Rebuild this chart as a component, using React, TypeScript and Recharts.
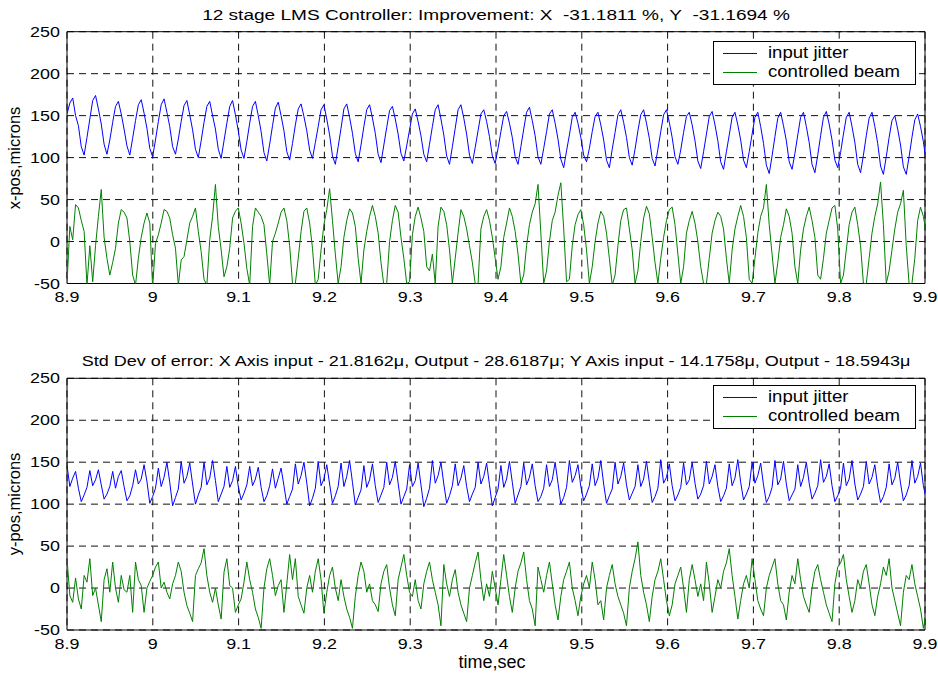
import React from 'react';
import {
  LineChart,
  Line,
  XAxis,
  YAxis,
  CartesianGrid,
  ReferenceArea,
} from 'recharts';

const FONT = '"Liberation Sans", Arial, Helvetica, sans-serif';

// sample clock of the recording
const T_START = 8.9;
const T_STEP = 0.003327;

const X_TICKS = [8.9, 9.0, 9.1, 9.2, 9.3, 9.4, 9.5, 9.6, 9.7, 9.8, 9.9];
const Y_TICKS = [-50, 0, 50, 100, 150, 200, 250];

const SERIES = [
  { key: 'jitter', name: 'input jitter', color: '#0000ff' },
  { key: 'beam', name: 'controlled beam', color: '#008000' },
];

// x-axis plot: input jitter (blue) and controlled beam (green), microns
const xJitter = [
  152, 165, 171, 150, 138, 113, 103, 124, 146, 168, 174, 158, 140, 116, 104, 121,
  142, 161, 167, 152, 134, 114, 103, 123, 144, 163, 169, 153, 135, 111, 101, 121,
  143, 163, 170, 154, 137, 113, 104, 122, 143, 162, 168, 151, 133, 110, 100, 120,
  142, 161, 167, 150, 134, 110, 99, 120, 141, 161, 168, 151, 132, 109, 99, 119,
  141, 161, 167, 150, 131, 106, 96, 116, 138, 159, 166, 150, 132, 107, 97, 117,
  139, 158, 164, 149, 132, 109, 99, 118, 137, 157, 163, 146, 127, 102, 92, 113,
  135, 158, 164, 148, 129, 105, 95, 115, 137, 157, 163, 147, 129, 104, 94, 115,
  136, 156, 161, 146, 128, 105, 96, 114, 133, 152, 158, 143, 126, 104, 95, 116,
  137, 157, 163, 146, 127, 102, 92, 113, 135, 157, 163, 147, 128, 103, 93, 112,
  132, 152, 157, 143, 125, 102, 93, 111, 131, 150, 155, 141, 124, 101, 92, 113,
  134, 154, 160, 144, 126, 101, 92, 111, 131, 152, 157, 141, 122, 98, 88, 108,
  127, 148, 154, 141, 124, 103, 95, 111, 131, 149, 154, 139, 121, 97, 88, 110,
  130, 151, 157, 142, 124, 100, 91, 110, 132, 151, 157, 141, 123, 99, 90, 110,
  131, 151, 157, 142, 124, 101, 92, 109, 130, 149, 154, 139, 120, 96, 87, 107,
  128, 149, 155, 139, 120, 95, 86, 107, 127, 148, 154, 139, 121, 97, 88, 107,
  128, 148, 154, 137, 117, 91, 81, 102, 125, 147, 154, 138, 120, 95, 86, 105,
  127, 148, 154, 137, 118, 92, 82, 103, 126, 148, 155, 140, 121, 97, 88, 106,
  128, 148, 154, 137, 118, 92, 82, 103, 126, 147, 154, 137, 117, 90, 80, 101,
  124, 144, 150, 134, 115, 89, 80, 101, 124, 145, 152, 137, 119, 95, 86, 104,
];

const xBeam = [
  -50, 18, 2, 44, 40, 25, 12, -52, -5, -48, -5, 30, 62, 5, -20, -40,
  -25, -8, 22, 38, 35, 28, 0, -40, -52, -20, 5, 22, 34, 22, -55, -2,
  8, 22, 38, 36, 28, 8, -8, -52, -22, -18, 2, 22, 30, 40, 12, -12,
  -45, -52, 2, 30, 68, 18, -10, -42, -30, -8, 28, 36, 40, 22, -2, -32,
  -52, 18, 40, 35, 30, 20, -15, -52, 0, 10, 22, 35, 40, 25, -5, -50,
  -50, -20, 12, 36, 40, 22, -8, -52, -45, -10, 20, 38, 63, 25, -15, -50,
  -30, 5, 25, 39, 34, 18, -20, -50, -10, 12, 30, 43, 30, 10, -25, -52,
  -50, 0, 25, 43, 35, 5, -20, -50, -48, 8, 30, 41, 28, 12, -30, -35,
  -15, -50, 18, 41, 36, 20, -10, -50, -20, 10, 38, 30, 15, -5, -25, -50,
  -50, 15, 30, 38, 25, 5, -20, -45, -30, 5, 22, 40, 30, 12, -15, -50,
  -40, -5, 20, 35, 45, 68, 10, -50, -35, 0, 25, 35, 55, 70, 15, -48,
  -45, -5, 20, 32, 38, 20, -10, -50, -30, 0, 22, 36, 30, 10, -20, -52,
  -40, -5, 25, 38, 40, 15, -10, -50, -35, 0, 28, 42, 33, 5, -25, -50,
  -20, 5, 25, 38, 41, 20, -15, -50, -30, 10, 25, 36, 22, 0, -30, -50,
  -50, -20, 10, 25, 35, 30, 15, -20, -50, -10, 15, 30, 43, 30, 5, -45,
  -50, -20, 10, 30, 40, 68, 20, -15, -50, -25, 5, 20, 39, 30, 10, -30,
  -50, -10, 15, 30, 41, 25, 5, -40, -45, -20, 10, 25, 40, 43, 15, -50,
  -40, -10, 20, 35, 41, 20, -5, -50, -50, -20, 10, 30, 45, 71, 20, -50,
  -35, -10, 15, 35, 45, 61, -5, -50, -50, -20, 25, 41, 30, 10, -15, -45,
];

// y-axis plot
const yJitter = [
  146, 121, 131, 139, 119, 103, 111, 120, 140, 122, 129, 141, 123, 106, 112, 121,
  139, 119, 133, 140, 121, 104, 110, 122, 141, 124, 130, 147, 127, 101, 109, 119,
  143, 121, 132, 150, 126, 98, 108, 118, 151, 125, 133, 149, 124, 100, 111, 120,
  150, 123, 131, 152, 128, 103, 112, 121, 145, 120, 128, 145, 121, 105, 113, 123,
  145, 122, 130, 144, 120, 103, 110, 122, 142, 119, 131, 143, 122, 100, 109, 118,
  148, 124, 134, 150, 125, 98, 107, 119, 151, 122, 130, 147, 124, 101, 110, 121,
  149, 121, 133, 152, 126, 99, 108, 117, 146, 120, 129, 148, 122, 102, 111, 120,
  150, 123, 132, 151, 125, 100, 109, 118, 147, 121, 128, 149, 123, 97, 107, 119,
  152, 125, 134, 150, 124, 101, 110, 122, 148, 122, 131, 146, 121, 103, 112, 120,
  150, 124, 133, 149, 123, 98, 108, 118, 146, 120, 130, 151, 126, 101, 111, 121,
  149, 123, 132, 148, 122, 103, 109, 119, 147, 121, 129, 150, 125, 100, 108, 120,
  152, 126, 134, 147, 121, 104, 112, 122, 148, 122, 131, 152, 124, 101, 110, 118,
  150, 124, 133, 149, 123, 105, 113, 121, 147, 121, 130, 151, 126, 102, 109, 119,
  153, 125, 132, 148, 122, 104, 111, 120, 149, 123, 129, 150, 125, 106, 112, 122,
  151, 124, 133, 147, 121, 103, 110, 119, 148, 122, 131, 153, 126, 105, 112, 121,
  150, 125, 134, 149, 123, 102, 109, 120, 152, 123, 130, 151, 124, 104, 111, 118,
  147, 121, 132, 150, 125, 106, 113, 122, 153, 126, 133, 148, 122, 103, 110, 119,
  149, 122, 130, 152, 124, 105, 112, 121, 151, 124, 132, 147, 121, 102, 109, 120,
  148, 123, 131, 150, 125, 104, 111, 122, 152, 125, 133, 149, 122, 106, 112, 120,
];

const yBeam = [
  35, -9, -17, 12, -13, -25, 15, 7, 35, -9, 0, -20, -40, 10, 23, -5,
  31, 0, -17, 15, -2, -5, 15, -29, 31, 10, 3, -29, 0, 8, 15, 25,
  31, 0, 7, -5, -13, 5, 15, 31, 20, -5, -21, -30, -40, 15, 23, 30,
  47, 15, -5, -17, 0, -20, -37, 19, 35, 3, 0, -29, -20, -13, 7, 31,
  10, -5, -25, -35, -48, 0, 23, 35, 15, -9, 3, 10, -29, 5, 40, 10,
  35, -10, -20, -30, 0, 15, -5, 20, 35, 10, -30, -5, 15, 25, 0, -15,
  10, -10, -25, -35, -48, -10, 15, 31, 20, -5, 5, -15, -20, -28, 5, 20,
  28, 0, -20, -33, 10, 25, 40, 15, -5, -10, 10, -15, -25, 5, 20, 31,
  10, -5, -20, -45, 28, 5, -10, 10, 22, -5, -20, -30, -40, 0, 15, 30,
  43, 10, -15, 5, -10, 20, 0, -20, 10, 40, 15, -10, -29, 0, 20, 30,
  43, 10, -15, -25, -45, 25, 10, -5, 15, 31, 5, -20, -38, -10, 10, 20,
  31, 0, -15, -33, -10, 5, 15, 0, 31, 10, -20, -15, -38, 0, 15, 28,
  5, -10, -20, -30, -45, 0, 20, 35, 55, 15, -5, -20, -40, -10, 10, 20,
  35, 10, -15, -33, -20, 5, 15, 25, 0, -29, 10, 28, 10, -10, 5, -15,
  31, 5, -29, -10, 10, 0, 20, 30, 47, 15, -10, -37, -15, 5, 15, 0,
  35, 10, -15, -25, -33, 0, 15, 25, 35, 5, -15, -20, -38, -5, 15, 5,
  35, 10, -10, -20, -29, 0, 20, 28, 10, -5, -20, -30, -40, 5, 25, 30,
  40, 10, -10, -29, -15, 10, 0, 20, 28, 5, -20, -33, -10, 5, 25, 15,
  35, 0, -15, -30, -45, -5, 15, 10, 28, 5, -10, -25, -48, -30, -10, 5,
];

const topRows = xJitter.map((v, i) => ({ t: T_START + i * T_STEP, jitter: v, beam: xBeam[i] }));
const bottomRows = yJitter.map((v, i) => ({ t: T_START + i * T_STEP, jitter: v, beam: yBeam[i] }));

function XTick({ x, y, payload }: any) {
  const v = Math.round(payload.value * 10) / 10;
  return (
    <g transform={`translate(${x},${y})`}>
      <text x={0} y={0} dy={19} textAnchor="middle" transform="scale(1.28,1)"
        fontSize={14} fontFamily={FONT} fill="#000">
        {String(v)}
      </text>
    </g>
  );
}

function YTick({ x, y, payload }: any) {
  return (
    <g transform={`translate(${x - 7},${y})`}>
      <text x={0} y={0} dy={5} textAnchor="end" transform="scale(1.28,1)"
        fontSize={14} fontFamily={FONT} fill="#000">
        {payload.value}
      </text>
    </g>
  );
}

// legend box drawn over the plot, top right corner
function LegendBox({ top }: { top: number }) {
  return (
    <div style={{
      position: 'absolute', left: 713, top, width: 203, height: 44, boxSizing: 'border-box',
      border: '1px solid #000', background: '#fff',
    }}>
      {SERIES.map((s, i) => (
        <div key={s.key}>
          <div style={{
            position: 'absolute', left: 9, top: 11 + i * 19, width: 34, height: 0,
            borderTop: `1px solid ${s.color}`,
          }} />
          <span style={{
            position: 'absolute', left: 54, top: 3 + i * 19, fontSize: 16, lineHeight: '16px',
            fontFamily: FONT, color: '#000', whiteSpace: 'nowrap',
            transform: 'scaleX(1.16)', transformOrigin: 'left center',
          }}>
            {s.name}
          </span>
        </div>
      ))}
    </div>
  );
}

function Panel({ data, height, top, axisHeight }: any) {
  return (
    <LineChart width={938} height={height} data={data}
      margin={{ top, right: 13, bottom: 0, left: 0 }}>
      <CartesianGrid stroke="#111" strokeDasharray="7 5" strokeWidth={1} />
      <XAxis dataKey="t" type="number" domain={[8.9, 9.9]} ticks={X_TICKS} interval={0}
        allowDataOverflow height={axisHeight} tickSize={0} tickMargin={0}
        axisLine={false} tickLine={false} tick={(p: any) => <XTick {...p} />} />
      <YAxis type="number" domain={[-50, 250]} ticks={Y_TICKS} interval={0}
        allowDataOverflow width={67} tickSize={0} tickMargin={0}
        axisLine={false} tickLine={false} tick={(p: any) => <YTick {...p} />} />
      {SERIES.map((s) => (
        <Line key={s.key} type="linear" dataKey={s.key} name={s.name} stroke={s.color}
          strokeWidth={1} dot={false} activeDot={false} isAnimationActive={false} />
      ))}
      <ReferenceArea x1={8.9} x2={9.9} y1={-50} y2={250} fill="none" fillOpacity={0}
        stroke="#000" strokeWidth={1} />
    </LineChart>
  );
}

const textBase: React.CSSProperties = {
  position: 'absolute', fontFamily: FONT, color: '#000', whiteSpace: 'nowrap',
};

export default function App() {
  return (
    <div style={{ position: 'absolute', left: 0, top: 0, width: 938, height: 675, background: '#fff', overflow: 'hidden' }}>
      <div style={{ position: 'absolute', left: 0, top: 0 }}>
        <Panel data={topRows} height={330} top={31.7} axisHeight={46.5} />
      </div>
      <div style={{ position: 'absolute', left: 0, top: 330 }}>
        <Panel data={bottomRows} height={345} top={48.3} axisHeight={45} />
      </div>

      <LegendBox top={40.7} />
      <LegendBox top={385} />

      <div style={{ ...textBase, left: 496, top: 8, fontSize: 14, lineHeight: '14px', transform: 'translateX(-50%) scaleX(1.36)' }}>
        12 stage LMS Controller: Improvement: X&nbsp; -31.1811 %, Y&nbsp; -31.1694 %
      </div>
      <div style={{ ...textBase, left: 496, top: 353, fontSize: 15, lineHeight: '15px', transform: 'translateX(-50%) scaleX(1.2)' }}>
        Std Dev of error: X Axis input - 21.8162μ, Output - 28.6187μ; Y Axis input - 14.1758μ, Output - 18.5943μ
      </div>

      <div style={{ ...textBase, left: 14, top: 157.5, fontSize: 16.5, lineHeight: '16.5px', transform: 'translate(-50%,-50%) rotate(-90deg)' }}>
        x-pos,microns
      </div>
      <div style={{ ...textBase, left: 14, top: 504, fontSize: 16.5, lineHeight: '16.5px', transform: 'translate(-50%,-50%) rotate(-90deg)' }}>
        y-pos,microns
      </div>

      <div style={{ ...textBase, left: 492, top: 652.5, fontSize: 18, lineHeight: '18px', transform: 'translateX(-50%)' }}>
        time,sec
      </div>
    </div>
  );
}
